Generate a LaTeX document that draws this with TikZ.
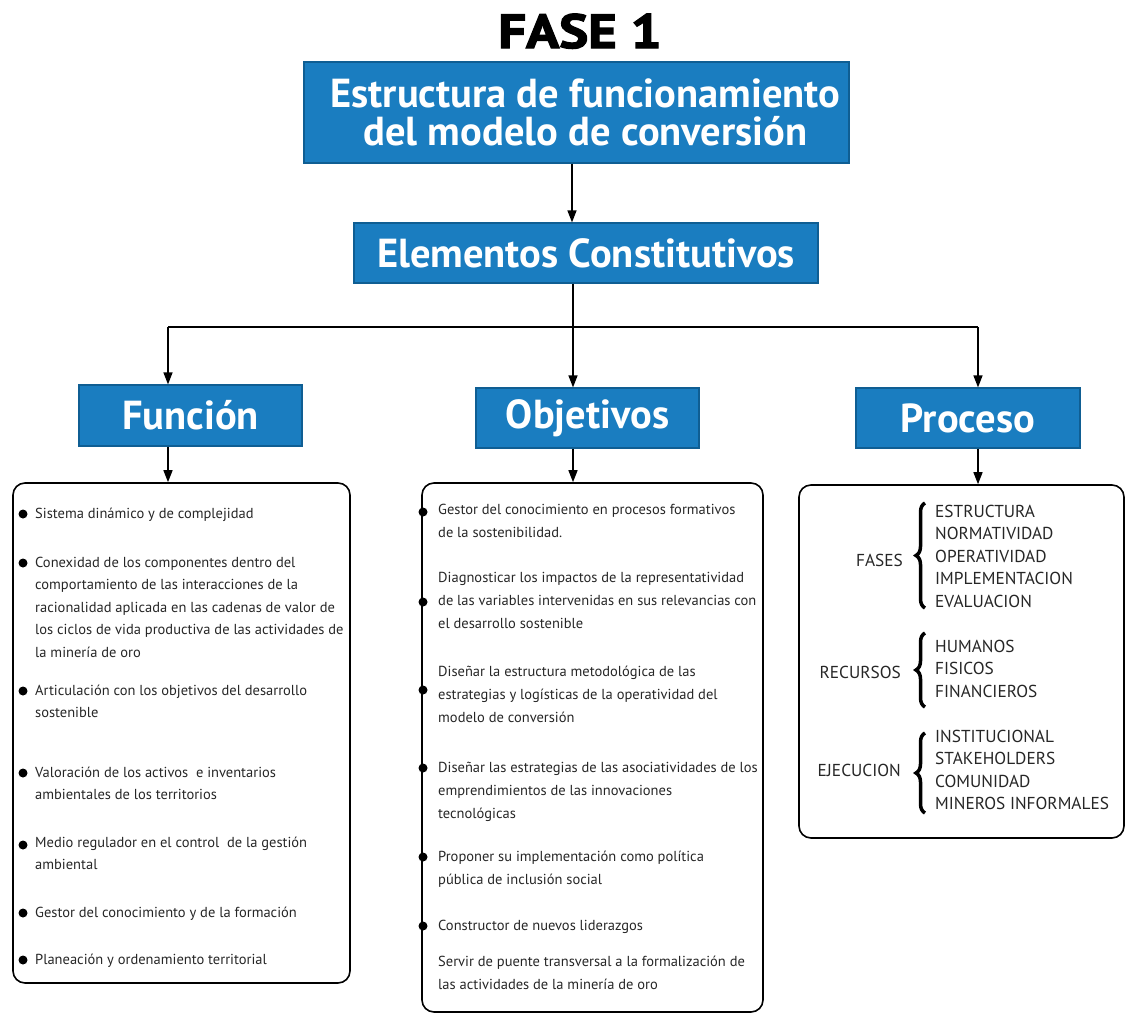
\documentclass[tikz,border=0pt]{standalone}
\usepackage{fontspec}
\setmainfont{PT Sans}
\newfontfamily\headfont[BoldFeatures={FakeBold=2.5}]{PT Sans}
\usetikzlibrary{arrows.meta,decorations.pathreplacing}
\definecolor{boxblue}{HTML}{1A7DC0}
\definecolor{boxedge}{HTML}{0F5E93}
\tikzset{
  bluebox/.style={draw=boxedge,line width=1.2pt,fill=boxblue,text=white,font=\bfseries,inner sep=0pt},
  headtext/.style={text=white,inner sep=0pt,font=\bfseries\fontsize{40.5}{38}\selectfont},
  panel/.style={draw=black,line width=1.6pt,rounded corners=12pt,inner sep=0pt},
  arr/.style={line width=1.4pt,-{Triangle[length=12pt,width=9pt]}},
  conn/.style={line width=1.4pt},
  item/.style={anchor=base west,align=left,inner sep=0pt,font=\fontsize{14.5}{22.5}\selectfont,text=black!85},
  oitem/.style={anchor=base west,align=left,inner sep=0pt,font=\fontsize{14.5}{23.3}\selectfont,text=black!85},
  capitem/.style={anchor=base west,align=left,inner sep=0pt,font=\fontsize{17.3}{22.5}\selectfont,text=black!85},
  caplabel/.style={anchor=base east,inner sep=0pt,font=\fontsize{17.3}{22.5}\selectfont,text=black!85},
  bul/.style={circle,fill=black,inner sep=0pt,minimum size=9pt},
  brc/.style={decorate,decoration={brace,amplitude=9pt},line width=3.5pt}
}
\begin{document}
\begin{tikzpicture}[x=1pt,y=-1pt]
\useasboundingbox (0,0) rectangle (1127,1015);
% title
\node[font=\headfont\bfseries\fontsize{48}{48}\selectfont,anchor=base,inner sep=0pt] (fase) at (580,48) {\scalebox{1.14}[1]{FASE 1}};
\node[bluebox,minimum width=545pt,minimum height=101pt] (top) at (576.5,112.5) {};
\node[headtext,align=center] (toptext) at (585.5,112.5) {Estructura de funcionamiento\\del modelo de conversión};
\node[bluebox,minimum width=464pt,minimum height=60pt,font=\bfseries\fontsize{40.5}{38}\selectfont] (elem) at (586,253) {Elementos Constitutivos};
\node[bluebox,minimum width=223pt,minimum height=61pt,font=\bfseries\fontsize{40.5}{38}\selectfont] (fun) at (190.5,415.5) {Función};
\node[bluebox,minimum width=223pt,minimum height=60pt,font=\bfseries\fontsize{40.5}{38}\selectfont] (obj) at (587.5,418) {Objetivos};
\node[bluebox,minimum width=224pt,minimum height=60pt,font=\bfseries\fontsize{40.5}{38}\selectfont] (pro) at (968,418) {Proceso};
% panels
\node[panel,minimum width=337pt,minimum height=500pt] (pfun) at (181.5,733) {};
\node[panel,minimum width=341pt,minimum height=529pt] (pobj) at (592.5,747.5) {};
\node[panel,minimum width=325pt,minimum height=353pt] (ppro) at (961.5,661.5) {};
% connectors
\coordinate (cx) at (572,0);
\coordinate (hub) at (573,327);
\coordinate (lf) at (168,327);
\coordinate (rt) at (978,327);
\draw[arr] (top.south -| cx) -- (elem.north -| cx);
\draw[conn] (elem.south -| hub) -- (hub);
\draw[conn] (lf) -- (rt);
\draw[arr] (lf) -- (fun.north -| lf);
\draw[arr] (hub) -- (obj.north -| hub);
\draw[arr] (rt) -- (pro.north -| rt);
\draw[arr] (fun.south -| lf) -- (pfun.north -| lf);
\draw[arr] (obj.south -| hub) -- (pobj.north -| hub);
\draw[arr] (pro.south -| rt) -- (ppro.north -| rt);
% Funcion items (node y = baseline of last line)
\node[bul] (fb1) at (23,514) {};
\node[item] (f1) at (35,518) {Sistema dinámico y de complejidad};
\node[bul] (fb2) at (23,563) {};
\node[item] (f2) at (35,657) {Conexidad de los componentes dentro del\\comportamiento de las interacciones de la\\racionalidad aplicada en las cadenas de valor de\\los ciclos de vida productiva de las actividades de\\la minería de oro};
\node[bul] (fb3) at (23,691) {};
\node[item] (f3) at (35,717.5) {Articulación con los objetivos del desarrollo\\sostenible};
\node[bul] (fb4) at (23,773) {};
\node[item] (f4) at (35,799.5) {Valoración de los activos\ \ e inventarios\\ambientales de los territorios};
\node[bul] (fb5) at (23,845) {};
\node[item] (f5) at (35,869.5) {Medio regulador en el control\ \ de la gestión\\ambiental};
\node[bul] (fb6) at (23,913) {};
\node[item] (f6) at (35,917) {Gestor del conocimiento y de la formación};
\node[bul] (fb7) at (23,960) {};
\node[item] (f7) at (35,964) {Planeación y ordenamiento territorial};
% Objetivos items
\node[bul] (ob1) at (423,512) {};
\node[oitem] (o1) at (438,537.3) {Gestor del conocimiento en procesos formativos\\de la sostenibilidad.};
\node[bul] (ob2) at (423,602) {};
\node[oitem] (o2) at (438,628.6) {Diagnosticar los impactos de la representatividad\\de las variables intervenidas en sus relevancias con\\el desarrollo sostenible};
\node[bul] (ob3) at (423,690) {};
\node[oitem] (o3) at (438,722.6) {Diseñar la estructura metodológica de las\\estrategias y logísticas de la operatividad del\\modelo de conversión};
\node[bul] (ob4) at (423,768) {};
\node[oitem] (o4) at (438,818.6) {Diseñar las estrategias de las asociatividades de los\\emprendimientos de las innovaciones\\tecnológicas};
\node[bul] (ob5) at (423,857) {};
\node[oitem] (o5) at (438,884.3) {Proponer su implementación como política\\pública de inclusión social};
\node[bul] (ob6) at (423,926) {};
\node[oitem] (o6) at (438,930) {Constructor de nuevos liderazgos};
\node[oitem] (o7) at (438,989.3) {Servir de puente transversal a la formalización de\\las actividades de la minería de oro};
% Proceso
\node[caplabel] (lfa) at (903,566) {FASES};
\draw[brc] (925,608) -- (925,503);
\node[capitem] (pfa) at (935,607) {ESTRUCTURA\\NORMATIVIDAD\\OPERATIVIDAD\\IMPLEMENTACION\\EVALUACION};
\node[caplabel] (lre) at (901,678) {RECURSOS};
\draw[brc] (925,707) -- (925,633);
\node[capitem] (pre) at (935,697) {HUMANOS\\FISICOS\\FINANCIEROS};
\node[caplabel] (lej) at (901,776) {EJECUCION};
\draw[brc] (925,813) -- (925,733);
\node[capitem] (pej) at (935,809.5) {INSTITUCIONAL\\STAKEHOLDERS\\COMUNIDAD\\MINEROS INFORMALES};
\end{tikzpicture}
\end{document}
